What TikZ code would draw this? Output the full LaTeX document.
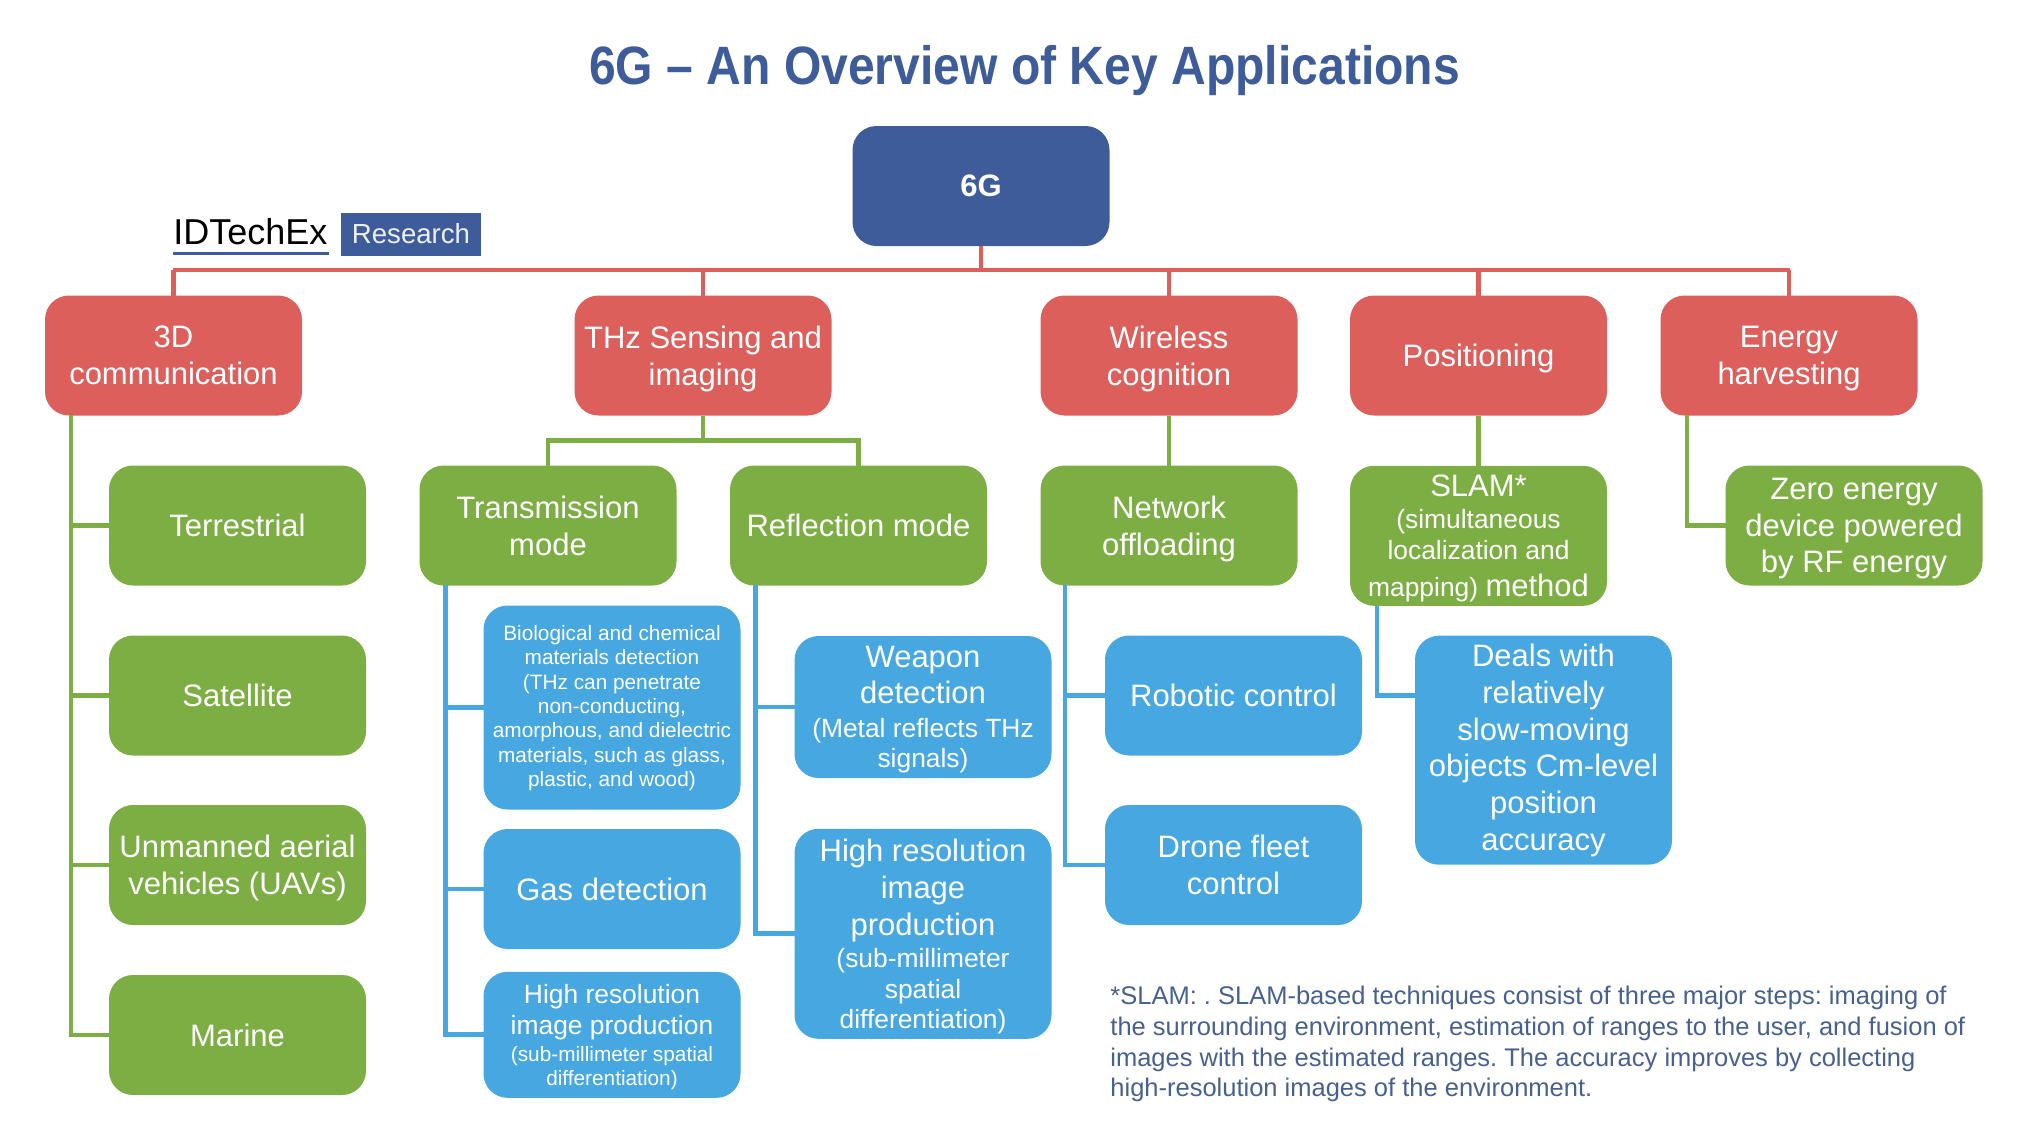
\documentclass[tikz,border=0pt]{standalone}
\usepackage{fontspec}
\setmainfont{Liberation Sans}
\newfontfamily\titlefont[FakeStretch=0.89]{Liberation Sans}
\definecolor{navy6g}{HTML}{3D5C99}
\definecolor{redapp}{HTML}{DC5F5C}
\definecolor{greenapp}{HTML}{7CAE44}
\definecolor{blueapp}{HTML}{47A7E1}
\definecolor{notetext}{HTML}{46608F}
\newcommand{\bigt}{\fontsize{15.5}{18.4}\selectfont}
\newcommand{\midt}{\fontsize{13.2}{15.4}\selectfont}
\newcommand{\lowt}{\fontsize{10.4}{12.2}\selectfont}
\frenchspacing
\tikzset{
  appbox/.style={rectangle,rounded corners=12pt,inner sep=0pt,outer sep=0pt,text=white,align=center,
    text depth=0pt,minimum width=128.5pt,minimum height=60pt,font=\bigt},
  rootbox/.style={appbox,fill=navy6g,font=\bigt\bfseries},
  redbox/.style={appbox,fill=redapp},
  greenbox/.style={appbox,fill=greenapp},
  bluebox/.style={appbox,fill=blueapp},
  redline/.style={draw=redapp,line width=2.4pt},
  greenline/.style={draw=greenapp,line width=2.4pt},
  blueline/.style={draw=blueapp,line width=2.4pt}
}
\begin{document}
\begin{tikzpicture}[x=0.5pt,y=-0.5pt]
    \useasboundingbox (0,0) rectangle (2034,1142);

    \node[text=navy6g,font=\fontsize{27}{30}\selectfont\titlefont\bfseries] (title) at (1024.5,71) {6G – An Overview of Key Applications};

    % logo
    \node[inner sep=0pt,font=\fontsize{18}{20}\selectfont,anchor=south west] (logo) at (173,245) {IDTechEx};
    \draw[draw=navy6g,line width=1.5pt] (logo.south west) ++(0,8.5) -- ++(156,0);
    \node[rectangle,fill=navy6g,text=white!90!navy6g,minimum width=70pt,minimum height=21.5pt,inner sep=0pt,font=\fontsize{13.8}{18}\selectfont] (research) at (411,234) {Research};

    % top row
    \node[rootbox] (root) at (981,186) {6G};
    \node[redbox] (com3d) at (173.5,355.5) {3D\\communication};
    \node[redbox] (thz) at (703,355.5) {THz Sensing and\\imaging};
    \node[redbox] (wireless) at (1169,355.5) {Wireless\\cognition};
    \node[redbox] (position) at (1478.5,355.5) {Positioning};
    \node[redbox] (energy) at (1789,355.5) {Energy\\harvesting};

    % green row
    \node[greenbox] (terr) at (237.5,525.5) {Terrestrial};
    \node[greenbox] (sat) at (237.5,695.5) {Satellite};
    \node[greenbox] (uav) at (237.5,865) {Unmanned aerial\\vehicles (UAVs)};
    \node[greenbox] (marine) at (237.5,1035) {Marine};
    \node[greenbox] (trans) at (548,525.5) {Transmission\\mode};
    \node[greenbox] (refl) at (858.5,525.5) {Reflection mode};
    \node[greenbox] (offload) at (1169,525.5) {Network\\offloading};
    \node[greenbox,minimum height=70pt] (slam) at (1478.5,535.8) {SLAM*\\[-2.3pt]\midt(simultaneous\\[-3pt]\midt localization and\\\midt mapping) {\bigt method}};
    \node[greenbox] (zero) at (1854,525.5) {Zero energy\\device powered\\by RF energy};

    % blue boxes
    \node[bluebox,minimum height=102pt,font=\lowt,text depth=1.5pt] (bio) at (612,707.5) {Biological and chemical\\materials detection\\(THz can penetrate\\non-conducting,\\amorphous, and dielectric\\materials, such as glass,\\plastic, and wood)};
    \node[bluebox] (gas) at (612,889) {Gas detection};
    \node[bluebox,minimum height=63pt] (hires) at (612,1034.8) {\midt High resolution\\[-2.8pt]\midt image production\\[-5pt]\lowt(sub-millimeter spatial\\[-6.3pt]\lowt differentiation)};
    \node[bluebox,minimum height=71pt] (weapon) at (923,707) {Weapon\\[-0.5pt]detection\\[-1.6pt]\midt(Metal reflects THz\\[-3.3pt]\midt signals)};
    \node[bluebox,minimum height=105pt] (hiresb) at (923,933.8) {High resolution\\image\\production\\[-2.3pt]\midt(sub-millimeter\\[-2.8pt]\midt spatial\\[-3.3pt]\midt differentiation)};
    \node[bluebox] (robot) at (1233.5,695.5) {Robotic control};
    \node[bluebox] (drone) at (1233.5,865) {Drone fleet\\control};
    \node[bluebox,minimum height=114.5pt,text depth=3pt] (deals) at (1543.5,750.2) {Deals with\\relatively\\slow-moving\\objects Cm-level\\position\\accuracy};

    \node[anchor=north west,inner sep=0pt,align=left,text=notetext,font=\fontsize{12.75}{15.3}\selectfont] (note) at (1110,986) {*SLAM: . SLAM-based techniques consist of three major steps: imaging of\\the surrounding environment, estimation of ranges to the user, and fusion of\\images with the estimated ranges. The accuracy improves by collecting\\high-resolution images of the environment.};

    % red tree
    \coordinate (busl) at (173,270);
    \coordinate (busr) at (1790,270);
    \draw[redline] (busl) -- (busr);
    \draw[redline] (root) -- (root |- busl);
    \foreach \n in {com3d,thz,wireless,position,energy}
    \draw[redline] (\n.north) -- (\n.north |- busl);

    % green tree
    \coordinate (buss) at (703,440.5);
    \draw[greenline] (thz.south) -- (buss);
    \draw[greenline] (buss) -| (trans.north);
    \draw[greenline] (buss) -| (refl.north);
    \draw[greenline] (wireless.south) -- (offload.north);
    \draw[greenline] (position.south) -- (slam.north);
    \coordinate (tcom) at (71,415);
    \foreach \n in {terr,sat,uav,marine}
    \draw[greenline] (tcom) |- (\n.west);
    \coordinate (tenergy) at (1687,415);
    \draw[greenline] (tenergy) |- (zero.west);

    % blue tree
    \coordinate (ttrans) at (445.5,585);
    \foreach \n in {bio,gas,hires}
    \draw[blueline] (ttrans) |- (\n.west);
    \coordinate (trefl) at (755.5,585);
    \foreach \n in {weapon,hiresb}
    \draw[blueline] (trefl) |- (\n.west);
    \coordinate (toff) at (1065,585);
    \foreach \n in {robot,drone}
    \draw[blueline] (toff) |- (\n.west);
    \coordinate (tslam) at (1377,605.6);
    \draw[blueline] (tslam) |- (deals.west |- robot);
\end{tikzpicture}
\end{document}
